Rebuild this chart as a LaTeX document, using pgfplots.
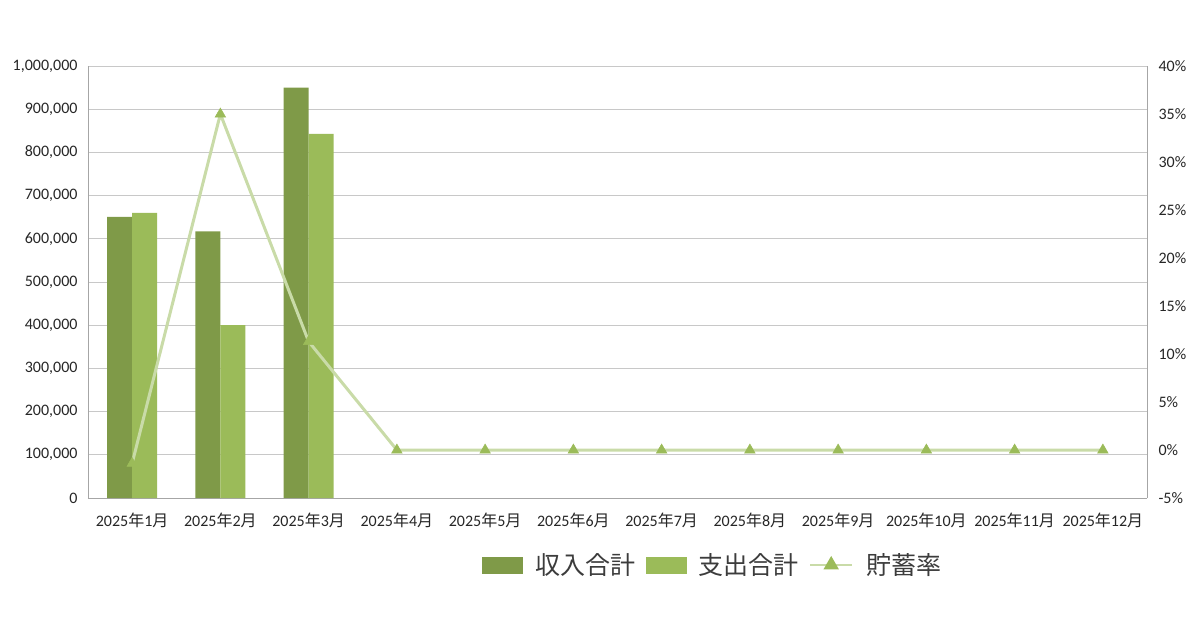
\documentclass[border=0pt]{standalone}
\usepackage{pgfplots}
\pgfplotsset{compat=1.18}
\usepackage{fontspec}
\setmainfont{Carlito}
\newfontfamily\jp{Noto Sans CJK JP}
\definecolor{income}{HTML}{7F9A48}
\definecolor{expense}{HTML}{9BBB59}
\definecolor{rateline}{HTML}{C9DBA8}
\definecolor{rategrid}{HTML}{C8C8C8}
\definecolor{axgray}{HTML}{A6A6A6}
\definecolor{txt}{HTML}{262626}

\pgfplotstableread{
x income expense
0 651000 660000
1 617000 400000
2 950000 843000
}\bars

\pgfplotstableread{
x rate
0 -1.4
1 35.0
2 11.3
3 0
4 0
5 0
6 0
7 0
8 0
9 0
10 0
11 0
}\rates

\pgfplotsset{
  common/.style={
    scale only axis, width=1059pt, height=432pt,
    at={(88pt,132pt)}, anchor=south west,
    xmin=-0.5, xmax=11.5,
    major tick length=0pt,
    axis line style={axgray, line width=0.8pt},
    tick label style={font=\fontsize{16}{19}\selectfont, text=txt},
    /pgf/number format/assume math mode=true,
  },
}

\begin{document}
\begin{tikzpicture}
\path[use as bounding box] (0,0) rectangle (1200pt,630pt);
\begin{axis}[common,
  axis x line*=bottom, axis y line*=left,
  ymin=0, ymax=1000000, ytick={0,100000,...,1000000},
  scaled y ticks=false,
  yticklabel style={/pgf/number format/fixed, /pgf/number format/1000 sep={,}, xshift=-7pt},
  ymajorgrids, grid style={rategrid, line width=0.8pt},
  xtick={0,...,11},
  xticklabels={2025{\jp 年}1{\jp 月},2025{\jp 年}2{\jp 月},2025{\jp 年}3{\jp 月},2025{\jp 年}4{\jp 月},2025{\jp 年}5{\jp 月},2025{\jp 年}6{\jp 月},2025{\jp 年}7{\jp 月},2025{\jp 年}8{\jp 月},2025{\jp 年}9{\jp 月},2025{\jp 年}10{\jp 月},2025{\jp 年}11{\jp 月},2025{\jp 年}12{\jp 月}},
  xticklabel style={yshift=-11pt},
  ybar=0pt, bar width=0.283,
]
\addplot[fill=income, draw=none] table[x=x, y=income] {\bars};
\addplot[fill=expense, draw=none] table[x=x, y=expense] {\bars};
\end{axis}
\begin{axis}[common,
  axis x line=none, axis y line*=right,
  ymin=-5, ymax=40, ytick={-5,0,...,40},
  yticklabel={\pgfmathprintnumber{\tick}\%},
  yticklabel style={xshift=8pt},
  legend columns=-1,
  legend style={draw=none, fill=none, at={(0.59,-0.155)}, anchor=center,
    font=\jp\fontsize{25}{29}\selectfont, text=txt!90,
    /tikz/every even column/.append style={column sep=8pt},
    /tikz/every odd column/.append style={column sep=11pt}},
]
\addlegendimage{legend image code/.code={\fill[income] (0pt,-8pt) rectangle (40pt,8pt);}}
\addlegendentry{収入合計}
\addlegendimage{legend image code/.code={\fill[expense] (0pt,-8pt) rectangle (40pt,8pt);}}
\addlegendentry{支出合計}
\addplot[rateline, line width=3pt, mark=triangle*, mark size=6pt,
  mark options={fill=expense, draw=expense, line width=0.5pt},
  legend image code/.code={\draw[rateline, line width=2.5pt] (0pt,0pt) -- (42pt,0pt);
    \fill[expense] (21pt,0pt) +(90:6pt) -- +(210:6pt) -- +(330:6pt) -- cycle;}]
  table[x=x, y=rate] {\rates};
\addlegendentry{貯蓄率}
\end{axis}
\end{tikzpicture}
\end{document}
